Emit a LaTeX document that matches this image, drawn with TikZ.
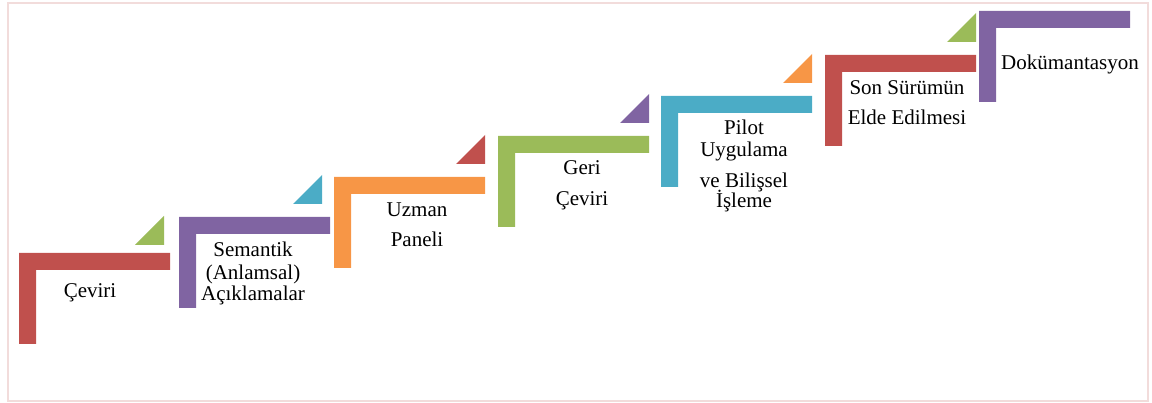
\documentclass[tikz,border=0pt]{standalone}
\usepackage{fontspec}
\setmainfont{Liberation Serif}
\definecolor{cred}{HTML}{C0504D}
\definecolor{cpurple}{HTML}{8064A2}
\definecolor{corange}{HTML}{F79646}
\definecolor{cgreen}{HTML}{9BBB59}
\definecolor{cteal}{HTML}{4BACC6}
\definecolor{frame}{HTML}{F2DCDB}
\begin{document}
\begin{tikzpicture}[x=1pt,y=-1pt,
  lbl/.style={anchor=base,inner sep=0pt,font=\fontsize{21}{22}\selectfont}]
\useasboundingbox (0,0) rectangle (1152,403);
\draw[frame,line width=1.2pt] (8,3) rectangle (1148,401);
% L-shaped steps: #1 left, #2 top, #3 colour
\newcommand{\stepL}[3]{%
  \fill[#3] (#1,#2+91) -- (#1,#2) -- (#1+151,#2) -- (#1+151,#2+17) -- (#1+17,#2+17) -- (#1+17,#2+91) -- cycle;}
% triangles: #1 right, #2 top, #3 colour
\newcommand{\tri}[3]{%
  \fill[#3] (#1,#2) -- (#1,#2+29) -- (#1-29,#2+29) -- cycle;}
\stepL{19}{253}{cred}
\stepL{179}{217}{cpurple}
\stepL{334}{177}{corange}
\stepL{498}{136}{cgreen}
\stepL{661}{96}{cteal}
\stepL{825}{55}{cred}
\stepL{979}{11}{cpurple}
\tri{164}{216}{cgreen}
\tri{322}{175}{cteal}
\tri{485}{135}{cred}
\tri{649}{94}{cpurple}
\tri{812}{54}{corange}
\tri{976}{13}{cgreen}
% labels
\node[lbl] (t1) at (90,298) {Çeviri};
\node[lbl] (t2a) at (253,257) {Semantik};
\node[lbl] (t2b) at (253,280) {(Anlamsal)};
\node[lbl] (t2c) at (253,301) {Açıklamalar};
\node[lbl] (t3a) at (417,217) {Uzman};
\node[lbl] (t3b) at (417,247) {Paneli};
\node[lbl] (t4a) at (582,175) {Geri};
\node[lbl] (t4b) at (582,206) {Çeviri};
\node[lbl] (t5a) at (744,135) {Pilot};
\node[lbl] (t5b) at (744,157) {Uygulama};
\node[lbl] (t5c) at (744,188) {ve Bilişsel};
\node[lbl] (t5d) at (744,208) {İşleme};
\node[lbl] (t6a) at (907,95) {Son Sürümün};
\node[lbl] (t6b) at (907,125) {Elde Edilmesi};
\node[lbl] (t7) at (1070,70) {Dokümantasyon};
\end{tikzpicture}
\end{document}
